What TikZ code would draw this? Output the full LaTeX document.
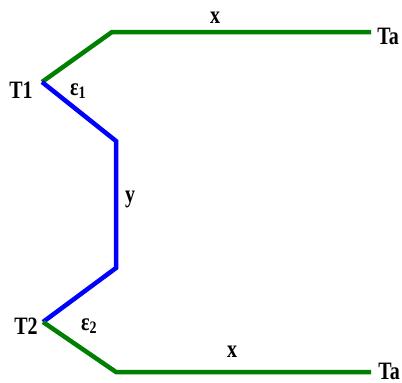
\documentclass[tikz,border=0pt]{standalone}
\usepackage{fontspec}
\setmainfont{Liberation Serif}
\usepackage{graphicx}
\definecolor{gline}{RGB}{0,128,0}
\definecolor{bline}{RGB}{0,0,255}
\newcommand\lbltxt[1]{\scalebox{0.8}[1]{#1}}
\begin{document}
\begin{tikzpicture}[x=1pt,y=-1pt,
  gseg/.style={draw=gline,line width=4.5pt,line join=miter},
  bseg/.style={draw=bline,line width=4.5pt,line join=miter},
  lbl/.style={inner sep=0pt,font=\fontsize{25}{25}\selectfont\bfseries}]
\useasboundingbox (0,0) rectangle (402,383);
\coordinate (t1) at (42,82);
\coordinate (tg) at (112,32);
\coordinate (ta1) at (371,32);
\coordinate (yb) at (116,141);
\coordinate (ye) at (116,268);
\coordinate (t2) at (43,322);
\coordinate (bg) at (116,372);
\coordinate (ta2) at (371,372);
\draw[gseg] (t1) -- (tg) -- (ta1);
\draw[bseg] (t1) -- (yb) -- (ye) -- (t2);
\draw[gseg] (t2) -- (bg) -- (ta2);
\node[lbl] (lT1) at (21,90) {\lbltxt{T1}};
\node[lbl] (le1) at (78,91) {\lbltxt{ε\textsubscript{1}}};
\node[lbl] (lx1) at (215,18) {\lbltxt{x}};
\node[lbl] (lTa1) at (388,36) {\lbltxt{Ta}};
\node[lbl] (ly) at (130,199) {\lbltxt{y}};
\node[lbl] (lT2) at (26,326) {\lbltxt{T2}};
\node[lbl] (le2) at (89,326) {\lbltxt{ε\textsubscript{2}}};
\node[lbl] (lx2) at (232,352) {\lbltxt{x}};
\node[lbl] (lTa2) at (389,371) {\lbltxt{Ta}};
\end{tikzpicture}
\end{document}
